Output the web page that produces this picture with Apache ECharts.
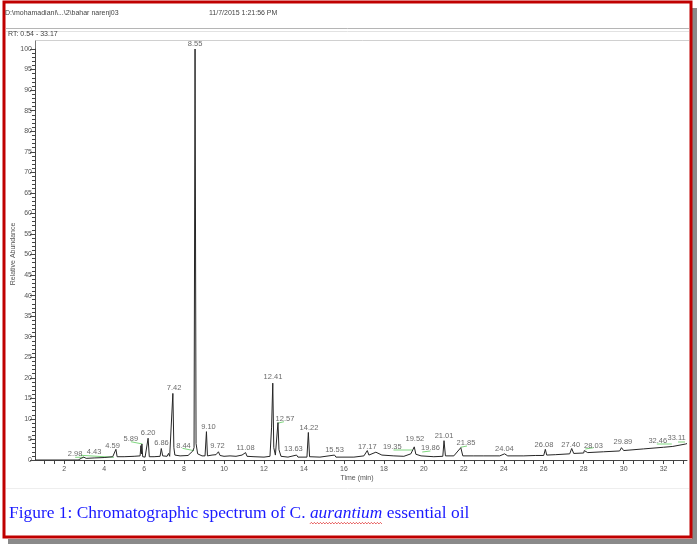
<!DOCTYPE html>
<html>
<head>
<meta charset="utf-8">
<script src="https://cdn.jsdelivr.net/npm/echarts@6/dist/echarts.min.js"></script>
<style>
html,body{margin:0;padding:0;background:#fff;}
#chart{width:697px;height:544px;}
</style>
</head>
<body>
<div id="chart"></div>
<script>
// ---- Data ----
const traceTime = [0.54,2.70,2.85,2.98,3.10,3.50,4.00,4.43,4.52,4.59,4.65,5.00,5.50,5.80,5.84,5.87,5.89,5.93,6.05,6.20,6.26,6.50,6.80,6.86,6.93,7.15,7.22,7.28,7.38,7.44,7.49,7.54,7.80,8.20,8.44,8.50,8.55,8.60,8.68,8.90,9.05,9.12,9.17,9.40,9.60,9.72,9.80,10.00,10.30,10.60,10.90,11.08,11.15,11.50,12.00,12.30,12.38,12.44,12.49,12.57,12.64,12.70,12.75,12.85,13.20,13.63,13.70,14.15,14.22,14.28,14.80,15.53,15.60,16.50,17.00,17.17,17.25,17.60,17.90,18.50,19.00,19.35,19.45,19.52,19.60,19.86,20.50,20.95,21.01,21.08,21.50,21.85,21.95,22.50,23.00,23.80,24.04,24.20,25.00,25.60,26.00,26.08,26.15,26.60,27.30,27.40,27.50,28.00,28.03,28.20,29.00,29.80,29.89,30.00,31.00,32.00,32.46,33.11,33.17];
const traceAbund = [0,0,0.4,0.7,0.4,0.5,0.6,0.8,0.8,2.6,0.8,0.8,0.9,1.0,3.5,1.5,3.9,0.8,0.7,5.3,0.8,0.8,0.9,2.8,1.0,0.9,1.6,0.9,1.0,16.2,3.0,1.2,1.0,1.1,2.2,3.0,100,4.0,1.5,1.0,1.0,6.9,1.0,1.2,1.3,2.0,1.1,0.9,1.0,0.9,1.2,1.8,0.9,0.8,0.7,0.9,8.0,18.7,3.0,1.2,1.5,9.1,2.5,0.9,0.7,1.2,0.7,0.7,6.7,0.8,0.7,1.2,0.7,0.7,1.0,2.3,1.2,1.9,1.2,1.0,0.9,1.5,1.5,3.2,1.4,1.0,0.8,0.9,4.7,1.0,1.0,3.0,1.0,1.0,1.0,1.0,1.5,1.0,1.0,1.1,1.1,2.6,1.2,1.3,1.5,2.8,1.6,1.7,2.3,1.8,2.0,2.2,3.0,2.3,2.7,3.1,3.3,3.9,4.0];

const peakLabels = ['2.98','4.43','4.59','5.89','6.20','6.86','7.42','8.44','8.55','9.10','9.72','11.08','12.41','12.57','13.63','14.22','15.53','17.17','19.35','19.52','19.86','21.01','21.85','24.04','26.08','27.40','28.03','29.89','32.46','33.11'];
const peakLabelTime = [2.55,3.50,4.42,5.34,6.20,6.87,7.50,7.97,8.55,9.22,9.67,11.08,12.45,13.05,13.47,14.25,15.53,17.17,18.42,19.55,20.33,21.01,22.11,24.03,26.01,27.35,28.49,29.96,31.71,32.65];
const peakLabelLevel = [1.46,2.02,3.41,5.04,6.50,4.21,17.45,3.41,101.2,8.10,3.41,2.99,20.27,10.05,2.60,7.86,2.43,3.24,3.09,5.04,2.85,5.91,4.06,2.75,3.65,3.65,3.41,4.31,4.62,5.28];

// green integration baseline segments: [t1, v1] -> [t2, v2]
const baselineSegTime1 = [2.55,2.84,5.34,7.92,12.67,18.48,19.92,21.83,28.08,31.66,32.72];
const baselineSegLevel1 = [0.66,1.14,4.45,2.85,8.93,2.43,1.95,3.09,2.68,3.89,4.38];
const baselineSegTime2 = [3.00,4.49,5.92,8.50,13.00,19.42,20.33,22.16,28.49,32.41,33.07];
const baselineSegLevel2 = [0.66,0.66,3.89,2.26,9.32,2.43,2.19,3.41,2.99,3.89,4.38];

const xTickValues = [1,1.5,2,2.5,3,3.5,4,4.5,5,5.5,6,6.5,7,7.5,8,8.5,9,9.5,10,10.5,11,11.5,12,12.5,13,13.5,14,14.5,15,15.5,16,16.5,17,17.5,18,18.5,19,19.5,20,20.5,21,21.5,22,22.5,23,23.5,24,24.5,25,25.5,26,26.5,27,27.5,28,28.5,29,29.5,30,30.5,31,31.5,32,32.5,33];
const xTickLabels = [2,4,6,8,10,12,14,16,18,20,22,24,26,28,30,32];
const yTickLabels = [0,5,10,15,20,25,30,35,40,45,50,55,60,65,70,75,80,85,90,95,100];

const xAxisTitle = 'Time (min)';
const yAxisTitle = 'Relative Abundance';
const captionPre = 'Figure 1: Chromatographic spectrum of C. ';
const captionItalic = 'aurantium';
const captionPost = ' essential oil';

// ---- Build series data ----
const traceData = traceTime.map((t, i) => [t, traceAbund[i]]);
const labelData = peakLabels.map((s, i) => [peakLabelTime[i], peakLabelLevel[i], s]);
const segData = [];
baselineSegTime1.forEach((t, i) => {
  segData.push([t, baselineSegLevel1[i]]);
  segData.push([baselineSegTime2[i], baselineSegLevel2[i]]);
  segData.push([null, null]);
});

// caption measurements for the red wavy underline
const capFont = 17.4, capLeft = 9, capTop = 505;
const mc = document.createElement('canvas').getContext('2d');
mc.font = capFont + 'px "Liberation Serif", serif';
const preW = mc.measureText(captionPre).width;
mc.font = 'italic ' + capFont + 'px "Liberation Serif", serif';
const itW = mc.measureText(captionItalic).width;
const waveY = capTop + capFont + 1;
const wavePts = [];
for (let x = capLeft + preW, k = 0; x <= capLeft + preW + itW; x += 1.5, k++) {
  wavePts.push([x, waveY + (k % 2 ? -1 : 0.5)]);
}

const chart = echarts.init(document.getElementById('chart'), null, {renderer: 'canvas'});
const gridLeft = 35, gridTop = 49, gridRight = 10, gridBottom = 84;
const axisFont = {fontFamily: 'Liberation Sans, Arial, sans-serif', fontSize: 7, color: '#555'};
const hdrFont = {fontFamily: 'Liberation Sans, Arial, sans-serif', fontSize: 7, fill: '#444'};

chart.setOption({
  animation: false,
  backgroundColor: '#ffffff',
  grid: {left: gridLeft, top: gridTop, right: gridRight, bottom: gridBottom, containLabel: false, outerBoundsMode: 'none'},
  xAxis: {
    type: 'value', min: 0.54, max: 33.17,
    axisLine: {show: true, onZero: false, lineStyle: {color: '#444', width: 1}},
    axisTick: {show: true, length: 4, customValues: xTickValues, lineStyle: {color: '#444'}},
    axisLabel: {show: true, customValues: xTickLabels, margin: 6, ...axisFont},
    splitLine: {show: false}
  },
  yAxis: {
    type: 'value', min: 0, max: 100, interval: 5,
    axisLine: {show: true, lineStyle: {color: '#444', width: 1}},
    axisTick: {show: true, length: 5, lineStyle: {color: '#444'}},
    minorTick: {show: true, splitNumber: 5, length: 3, lineStyle: {color: '#444'}},
    axisLabel: {show: true, margin: 3, formatter: v => (yTickLabels.indexOf(v) >= 0 ? String(v) : ''), ...axisFont},
    splitLine: {show: false}
  },
  series: [
    {
      type: 'line', data: traceData, showSymbol: false, symbol: 'none',
      lineStyle: {color: '#262626', width: 1}, z: 3, clip: true
    },
    {
      type: 'line', data: segData, showSymbol: false, symbol: 'none', connectNulls: false,
      lineStyle: {color: '#7fd77f', width: 1}, z: 2
    },
    {
      type: 'scatter', data: labelData, symbolSize: 0, clip: false, silent: true,
      label: {
        show: true, position: 'inside',
        formatter: p => p.value[2],
        fontFamily: 'Liberation Sans, Arial, sans-serif', fontSize: 7.5, color: '#444'
      },
      z: 4
    }
  ],
  graphic: [
    // shadow
    {type: 'rect', shape: {x: 692, y: 8, width: 5, height: 536}, style: {fill: '#8a8a8a'}, silent: true},
    {type: 'rect', shape: {x: 8, y: 539, width: 689, height: 5}, style: {fill: '#8a8a8a'}, silent: true},
    // red frame
    {type: 'rect', shape: {x: 4, y: 2, width: 687, height: 535}, style: {fill: null, stroke: '#c00000', lineWidth: 3}, silent: true},
    // header
    {type: 'text', left: 5, top: 10, style: {text: 'D:\\mohamadiani\\...\\2\\bahar narenj03', ...hdrFont}},
    {type: 'text', left: 209, top: 10, style: {text: '11/7/2015 1:21:56 PM', ...hdrFont}},
    {type: 'line', shape: {x1: 6, y1: 28.5, x2: 689, y2: 28.5}, style: {stroke: '#b5b5b5', lineWidth: 1}, silent: true},
    {type: 'line', shape: {x1: 6, y1: 31.5, x2: 689, y2: 31.5}, style: {stroke: '#e2e2e2', lineWidth: 1}, silent: true},
    {type: 'text', left: 8, top: 31, style: {text: 'RT: 0.54 - 33.17', ...hdrFont}},
    {type: 'line', shape: {x1: 35.5, y1: 40.5, x2: 689, y2: 40.5}, style: {stroke: '#d0d0d0', lineWidth: 1}, silent: true},
    {type: 'line', shape: {x1: 35.5, y1: 40.5, x2: 35.5, y2: 49}, style: {stroke: '#777', lineWidth: 1}, silent: true},
    {type: 'line', shape: {x1: 6, y1: 488.5, x2: 689, y2: 488.5}, style: {stroke: '#eeeeee', lineWidth: 1}, silent: true},
    // axis titles
    {type: 'text', x: 13, y: 254, rotation: Math.PI / 2, style: {text: yAxisTitle, align: 'center', verticalAlign: 'middle', fontFamily: 'Liberation Sans, Arial, sans-serif', fontSize: 7, fill: '#555'}},
    {type: 'text', x: 357, y: 478, style: {text: xAxisTitle, align: 'center', verticalAlign: 'middle', fontFamily: 'Liberation Sans, Arial, sans-serif', fontSize: 7, fill: '#555'}},
    // caption
    {type: 'text', left: capLeft, top: capTop, style: {
      text: '{n|' + captionPre + '}{i|' + captionItalic + '}{n|' + captionPost + '}',
      rich: {
        n: {fontFamily: 'Liberation Serif, serif', fontSize: capFont, fill: '#1a1aff'},
        i: {fontFamily: 'Liberation Serif, serif', fontSize: capFont, fontStyle: 'italic', fill: '#1a1aff'}
      }
    }},
    {type: 'polyline', shape: {points: wavePts}, style: {stroke: '#e03030', lineWidth: 0.8, fill: null}, silent: true}
  ]
});
</script>
</body>
</html>
